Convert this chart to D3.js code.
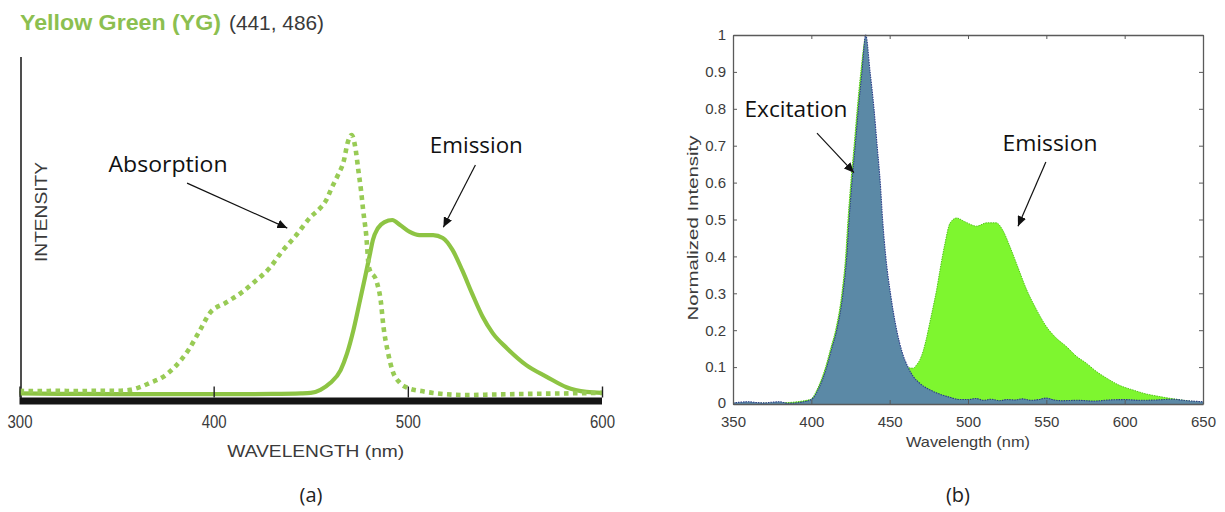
<!DOCTYPE html>
<html>
<head>
<meta charset="utf-8">
<script src="https://cdn.jsdelivr.net/npm/d3@7"></script>
<style>
  body { margin: 0; background: #fff; }
  svg { display: block; }
</style>
</head>
<body>
<svg id="fig" width="1225" height="512"></svg>
<script>
// ---------- Panel (a): Yellow Green (YG) dye, absorption and emission ----------
const absWl = [300, 310, 320, 330, 340, 350, 357, 362, 367, 374, 380, 387, 393, 398, 406, 414, 421, 429, 435, 442,
  450, 455, 458, 461, 464, 467, 469, 471, 473, 474.5, 476, 477, 478.5, 480, 484, 486, 487.5, 489.5, 492, 496,
  500, 507, 513, 530, 545, 560, 580, 600];
const absVal = [0.016, 0.015, 0.016, 0.015, 0.016, 0.016, 0.02, 0.03, 0.046, 0.07, 0.108, 0.173, 0.25, 0.315, 0.354, 0.392, 0.435, 0.49, 0.55, 0.61,
  0.685, 0.72, 0.75, 0.80, 0.846, 0.90, 0.97, 1.0, 0.95, 0.865, 0.78, 0.71, 0.62, 0.49, 0.435, 0.365, 0.26, 0.173, 0.096, 0.046,
  0.027, 0.015, 0.008, 0.0, 0.002, 0.004, 0.006, 0.008];

const emWlA = [300, 330, 360, 400, 430, 445, 450, 455, 460, 465.4, 468.7, 472, 475.4, 478, 480.6, 482, 484.6, 488, 492, 496,
  501, 506, 513, 518, 523, 528, 533, 538.6, 543.7, 551, 561, 571.5, 581.7, 592, 600];
const emValA = [0.006, 0.004, 0.003, 0.003, 0.004, 0.006, 0.008, 0.02, 0.046, 0.096, 0.16, 0.25, 0.365, 0.454, 0.546, 0.596, 0.642, 0.665, 0.673, 0.654,
  0.627, 0.615, 0.615, 0.604, 0.558, 0.48, 0.392, 0.30, 0.238, 0.18, 0.115, 0.07, 0.03, 0.012, 0.008];

const ticksA = [300, 400, 500, 600];

// ---------- Panel (b): normalized excitation and emission ----------
const excWl = [350, 355, 360, 365, 370, 375, 380, 385, 390, 395, 400, 405, 409.8, 413, 416.2, 420.2, 422.6, 424.1, 425.9, 428,
  430, 432.3, 434.7, 437.5, 440, 442, 444, 445.5, 447.5, 450.5, 454.5, 458, 461.7, 465, 469, 475, 480, 487, 495, 500,
  505, 510, 515, 520, 525, 530, 535, 540, 545, 550, 555, 560, 570, 580, 590, 600, 610, 620, 630, 640, 650];
const excVal = [0.003, 0.005, 0.006, 0.004, 0.003, 0.005, 0.006, 0.002, 0.003, 0.006, 0.012, 0.045, 0.1, 0.15, 0.2, 0.3, 0.4, 0.5, 0.6, 0.7,
  0.8, 0.9, 1.0, 0.9, 0.8, 0.7, 0.6, 0.5, 0.4, 0.3, 0.2, 0.14, 0.1, 0.075, 0.057, 0.04, 0.03, 0.02, 0.012, 0.012,
  0.015, 0.01, 0.013, 0.009, 0.012, 0.011, 0.014, 0.01, 0.012, 0.016, 0.011, 0.009, 0.01, 0.008, 0.011, 0.012, 0.01, 0.011, 0.013, 0.009, 0.006];

const emWlB = [350, 380, 399.3, 404.3, 409.1, 412.3, 415.5, 419.5, 421.9, 423.4, 425.2, 427.3, 429.3, 431.6, 434.7, 437, 440, 445, 450, 455,
  460, 462.5, 465, 467, 469.3, 471.5, 473.6, 475.6, 477.6, 480, 482, 485.3, 488.5, 492.7, 498, 505.5, 512, 518, 522.3, 526.8,
  531, 537.4, 543.8, 550, 556, 563, 569, 575.7, 582, 588.5, 597, 605.3, 613, 622.5, 631, 639.5, 650];
const emValB = [0.002, 0.003, 0.012, 0.045, 0.1, 0.15, 0.2, 0.3, 0.4, 0.5, 0.6, 0.7, 0.8, 0.9, 0.99, 0.85, 0.7, 0.45, 0.25, 0.16,
  0.105, 0.098, 0.097, 0.105, 0.12, 0.145, 0.18, 0.22, 0.26, 0.31, 0.36, 0.435, 0.49, 0.504, 0.494, 0.482, 0.491, 0.491, 0.47, 0.426,
  0.38, 0.31, 0.255, 0.21, 0.18, 0.155, 0.13, 0.11, 0.088, 0.07, 0.05, 0.038, 0.028, 0.02, 0.014, 0.009, 0.004];

const ticksBx = [350, 400, 450, 500, 550, 600, 650];
const ticksBy = [0, 0.1, 0.2, 0.3, 0.4, 0.5, 0.6, 0.7, 0.8, 0.9, 1];
const ticksByLabels = ["0", "0.1", "0.2", "0.3", "0.4", "0.5", "0.6", "0.7", "0.8", "0.9", "1"];

const zip = (xs, ys) => xs.map((x, i) => [x, ys[i]]);

const svg = d3.select("#fig");
const sans = "'Liberation Sans', Arial, sans-serif";
const note = "'Open Sans', 'Noto Sans', sans-serif";

// arrow head used by the annotations
svg.append("defs").append("marker")
  .attr("id", "head").attr("markerUnits", "userSpaceOnUse")
  .attr("markerWidth", 11).attr("markerHeight", 9)
  .attr("refX", 10).attr("refY", 4.5).attr("orient", "auto")
  .append("path").attr("d", "M0,0 L10,4.5 L0,9 Z").attr("fill", "#111");

function annotate(g, x, y, text, tx, ty, from, to, width) {
  g.append("text").attr("x", x(tx)).attr("y", y(ty)).attr("dy", "0.35em")
    .attr("text-anchor", "middle").attr("font-family", note).attr("font-size", 21)
    .attr("textLength", width).attr("lengthAdjust", "spacingAndGlyphs")
    .attr("fill", "#111").text(text);
  g.append("line")
    .attr("x1", x(from[0])).attr("y1", y(from[1]))
    .attr("x2", x(to[0])).attr("y2", y(to[1]))
    .attr("stroke", "#111").attr("stroke-width", 1.2)
    .attr("marker-end", "url(#head)");
}

// ================= Panel (a) =================
{
  const g = svg.append("g");
  const x = d3.scaleLinear([300, 600], [19.5, 602]);
  const y = d3.scaleLinear([0, 1], [395, 135]);
  const green = "#8dc443";

  // title
  g.append("text").attr("x", 20).attr("y", 29.5).attr("font-family", sans)
    .attr("font-weight", "bold").attr("font-size", 22).attr("fill", "#8cbf50")
    .attr("textLength", 201).attr("lengthAdjust", "spacingAndGlyphs")
    .text("Yellow Green (YG)");
  g.append("text").attr("x", 229).attr("y", 29.5).attr("font-family", sans)
    .attr("font-size", 21).attr("fill", "#3a3a3a")
    .attr("textLength", 95).attr("lengthAdjust", "spacingAndGlyphs")
    .text("(441, 486)");

  // vertical axis line
  g.append("line").attr("x1", x(300) + 1.5).attr("x2", x(300) + 1.5)
    .attr("y1", 57).attr("y2", y(0) + 3).attr("stroke", "#222").attr("stroke-width", 1.6);

  // curves
  const line = d3.line().x(d => x(d[0])).y(d => y(d[1])).curve(d3.curveMonotoneX);
  g.append("path").datum(zip(emWlA, emValA)).attr("d", line)
    .attr("fill", "none").attr("stroke", green).attr("stroke-width", 4.2)
    .attr("stroke-linejoin", "round");
  g.append("path").datum(zip(absWl, absVal)).attr("d", line)
    .attr("fill", "none").attr("stroke", "#98cb55").attr("stroke-width", 4.6)
    .attr("stroke-dasharray", "4.6 4.4");

  // thick baseline bar
  g.append("rect").attr("x", x(300)).attr("width", x(600) - x(300))
    .attr("y", y(0) + 2.5).attr("height", 7).attr("fill", "#151515");

  // bottom axis: ticks above the bar, labels below it
  const ax = g.append("g").attr("transform", `translate(0,${y(0) + 2.5})`)
    .call(d3.axisBottom(x).tickValues(ticksA).tickSizeInner(-11).tickSizeOuter(0).tickPadding(17));
  ax.select(".domain").remove();
  ax.selectAll(".tick line").attr("stroke", "#222").attr("stroke-width", 1.4);
  ax.selectAll(".tick text").attr("font-family", sans).attr("font-size", 19).attr("fill", "#3a3a3a")
    .attr("textLength", 25).attr("lengthAdjust", "spacingAndGlyphs");

  // axis titles
  g.append("text").attr("x", (x(400) + x(500)) / 2 + 5).attr("y", 451).attr("dy", "0.35em")
    .attr("text-anchor", "middle").attr("font-family", sans).attr("font-size", 17)
    .attr("fill", "#3a3a3a").attr("textLength", 177).attr("lengthAdjust", "spacingAndGlyphs")
    .text("WAVELENGTH (nm)");
  g.append("text").attr("transform", "translate(41,212) rotate(-90)").attr("dy", "0.35em")
    .attr("text-anchor", "middle").attr("font-family", sans).attr("font-size", 17)
    .attr("fill", "#3a3a3a").attr("textLength", 100).attr("lengthAdjust", "spacingAndGlyphs")
    .text("INTENSITY");

  annotate(g, x, y, "Absorption", 376.5, 0.885, [386.3, 0.815], [437.9, 0.642], 119);
  annotate(g, x, y, "Emission", 535.3, 0.96, [534.8, 0.885], [518.3, 0.645], 93);

  g.append("text").attr("x", 311).attr("y", 495).attr("dy", "0.35em").attr("text-anchor", "middle")
    .attr("font-family", note).attr("font-size", 20).attr("fill", "#222").text("(a)");
}

// ================= Panel (b) =================
{
  const g = svg.append("g");
  const x = d3.scaleLinear([350, 650], [733, 1203]);
  const y = d3.scaleLinear([0, 1], [404, 35]);
  const area = d3.area().x(d => x(d[0])).y0(y(0)).y1(d => y(d[1])).curve(d3.curveMonotoneX);
  const edge = d3.line().x(d => x(d[0])).y(d => y(d[1])).curve(d3.curveMonotoneX);

  const em = zip(emWlB, emValB), ex = zip(excWl, excVal);
  g.append("path").datum(em).attr("d", area).attr("fill", "#7ef62f");
  g.append("path").datum(em).attr("d", edge).attr("fill", "none")
    .attr("stroke", "#52c41a").attr("stroke-width", 1).attr("stroke-dasharray", "1.5 1");
  g.append("path").datum(ex).attr("d", area).attr("fill", "#5b89a6");
  g.append("path").datum(ex).attr("d", edge).attr("fill", "none")
    .attr("stroke", "#2a3b88").attr("stroke-width", 1.1).attr("stroke-dasharray", "1.5 1");

  // axes box with inward ticks
  const axColor = "#5a5a5a";
  const bottom = g.append("g").attr("transform", `translate(0,${y(0)})`)
    .call(d3.axisBottom(x).tickValues(ticksBx).tickSizeInner(-4).tickSizeOuter(0).tickPadding(12));
  const top = g.append("g").attr("transform", `translate(0,${y(1)})`)
    .call(d3.axisTop(x).tickValues(ticksBx).tickSizeInner(-4).tickSizeOuter(0).tickFormat(""));
  const left = g.append("g").attr("transform", `translate(${x(350)},0)`)
    .call(d3.axisLeft(y).tickValues(ticksBy).tickSizeInner(-4).tickSizeOuter(0).tickPadding(7)
      .tickFormat((d, i) => ticksByLabels[i]));
  const right = g.append("g").attr("transform", `translate(${x(650)},0)`)
    .call(d3.axisRight(y).tickValues(ticksBy).tickSizeInner(-4).tickSizeOuter(0).tickFormat(""));
  [bottom, top, left, right].forEach(a => {
    a.select(".domain").attr("stroke", axColor).attr("stroke-width", 1.3);
    a.selectAll(".tick line").attr("stroke", axColor);
    a.selectAll(".tick text").attr("font-family", sans).attr("font-size", 15).attr("fill", "#3c3c3c");
  });
  // lift the lowest y label slightly so it clears the x labels
  left.selectAll(".tick text").filter(d => d === 0).attr("dy", "0.2em");

  g.append("text").attr("x", (x(350) + x(650)) / 2).attr("y", 442).attr("dy", "0.35em")
    .attr("text-anchor", "middle").attr("font-family", sans).attr("font-size", 15)
    .attr("fill", "#3c3c3c").attr("textLength", 124).attr("lengthAdjust", "spacingAndGlyphs")
    .text("Wavelength (nm)");
  g.append("text").attr("transform", "translate(693,228) rotate(-90)").attr("dy", "0.35em")
    .attr("text-anchor", "middle").attr("font-family", sans).attr("font-size", 15)
    .attr("fill", "#3c3c3c").attr("textLength", 185).attr("lengthAdjust", "spacingAndGlyphs")
    .text("Normalized Intensity");

  annotate(g, x, y, "Excitation", 390.2, 0.797, [403.6, 0.734], [427.2, 0.627], 103);
  annotate(g, x, y, "Emission", 552.3, 0.705, [549.7, 0.656], [531.9, 0.482], 95);

  g.append("text").attr("x", 958).attr("y", 495).attr("dy", "0.35em").attr("text-anchor", "middle")
    .attr("font-family", note).attr("font-size", 20).attr("fill", "#222").text("(b)");
}
</script>
</body>
</html>
